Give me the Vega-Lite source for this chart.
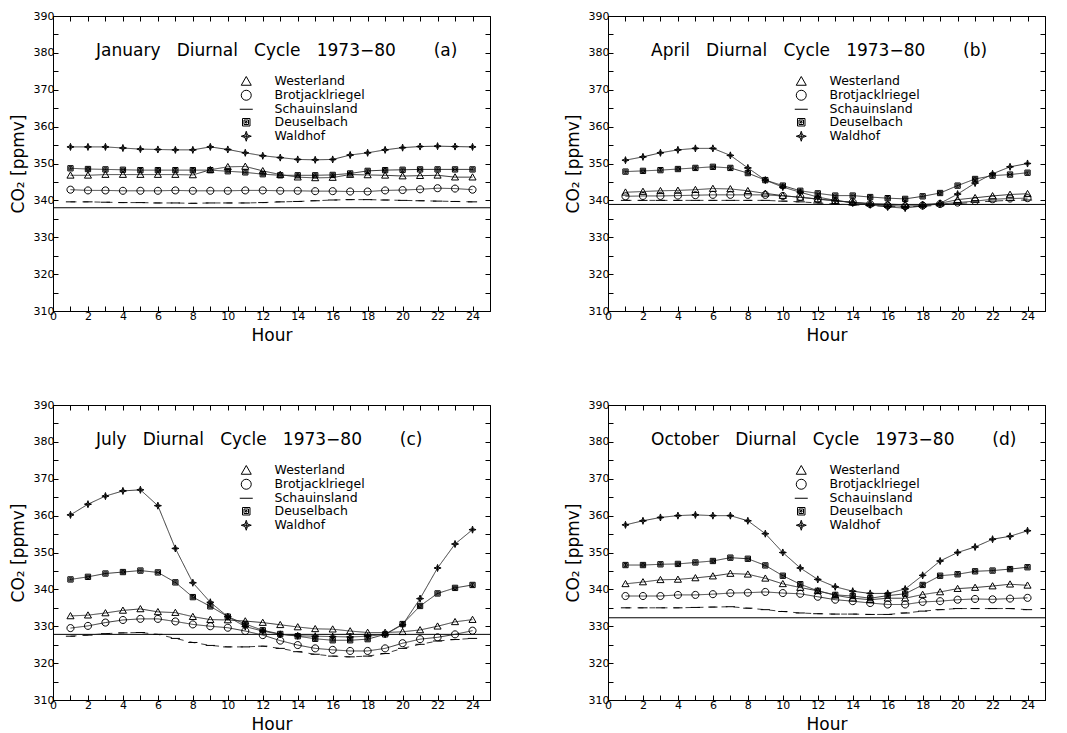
{
  "$schema": "https://vega.github.io/schema/vega-lite/v6.json",
  "padding": {"left": 8, "top": 9, "right": 5, "bottom": 5},
  "datasets": {
    "base": [
      {"month": "January", "co2": 338.0},
      {"month": "April", "co2": 338.9},
      {"month": "July", "co2": 327.8},
      {"month": "October", "co2": 332.3}
    ],
    "co2": [
      {"month":"January","hour":1,"Westerland":346.8,"Brotjacklriegel":342.9,"Schauinsland":339.6,"Deuselbach":348.7,"Waldhof":354.5},
      {"month":"January","hour":2,"Westerland":346.8,"Brotjacklriegel":342.7,"Schauinsland":339.6,"Deuselbach":348.5,"Waldhof":354.5},
      {"month":"January","hour":3,"Westerland":347.0,"Brotjacklriegel":342.7,"Schauinsland":339.5,"Deuselbach":348.4,"Waldhof":354.5},
      {"month":"January","hour":4,"Westerland":347.0,"Brotjacklriegel":342.6,"Schauinsland":339.4,"Deuselbach":348.3,"Waldhof":354.2},
      {"month":"January","hour":5,"Westerland":347.0,"Brotjacklriegel":342.6,"Schauinsland":339.4,"Deuselbach":348.2,"Waldhof":353.9},
      {"month":"January","hour":6,"Westerland":347.0,"Brotjacklriegel":342.6,"Schauinsland":339.3,"Deuselbach":348.2,"Waldhof":353.8},
      {"month":"January","hour":7,"Westerland":347.0,"Brotjacklriegel":342.7,"Schauinsland":339.3,"Deuselbach":348.2,"Waldhof":353.7},
      {"month":"January","hour":8,"Westerland":346.9,"Brotjacklriegel":342.6,"Schauinsland":339.2,"Deuselbach":348.2,"Waldhof":353.7},
      {"month":"January","hour":9,"Westerland":348.3,"Brotjacklriegel":342.6,"Schauinsland":339.3,"Deuselbach":348.2,"Waldhof":354.5},
      {"month":"January","hour":10,"Westerland":349.1,"Brotjacklriegel":342.6,"Schauinsland":339.3,"Deuselbach":347.9,"Waldhof":353.8},
      {"month":"January","hour":11,"Westerland":349.2,"Brotjacklriegel":342.7,"Schauinsland":339.3,"Deuselbach":347.6,"Waldhof":352.9},
      {"month":"January","hour":12,"Westerland":348.0,"Brotjacklriegel":342.7,"Schauinsland":339.4,"Deuselbach":347.1,"Waldhof":352.1},
      {"month":"January","hour":13,"Westerland":347.0,"Brotjacklriegel":342.6,"Schauinsland":339.6,"Deuselbach":346.8,"Waldhof":351.6},
      {"month":"January","hour":14,"Westerland":346.3,"Brotjacklriegel":342.6,"Schauinsland":339.7,"Deuselbach":346.8,"Waldhof":351.1},
      {"month":"January","hour":15,"Westerland":346.1,"Brotjacklriegel":342.5,"Schauinsland":339.9,"Deuselbach":346.8,"Waldhof":351.0},
      {"month":"January","hour":16,"Westerland":346.2,"Brotjacklriegel":342.5,"Schauinsland":340.1,"Deuselbach":346.9,"Waldhof":351.1},
      {"month":"January","hour":17,"Westerland":347.0,"Brotjacklriegel":342.4,"Schauinsland":340.2,"Deuselbach":347.3,"Waldhof":352.3},
      {"month":"January","hour":18,"Westerland":346.9,"Brotjacklriegel":342.4,"Schauinsland":340.2,"Deuselbach":348.0,"Waldhof":352.9},
      {"month":"January","hour":19,"Westerland":346.8,"Brotjacklriegel":342.7,"Schauinsland":340.1,"Deuselbach":348.2,"Waldhof":353.7},
      {"month":"January","hour":20,"Westerland":346.6,"Brotjacklriegel":342.8,"Schauinsland":340.0,"Deuselbach":348.3,"Waldhof":354.3},
      {"month":"January","hour":21,"Westerland":346.7,"Brotjacklriegel":343.0,"Schauinsland":339.9,"Deuselbach":348.4,"Waldhof":354.6},
      {"month":"January","hour":22,"Westerland":346.8,"Brotjacklriegel":343.3,"Schauinsland":339.8,"Deuselbach":348.4,"Waldhof":354.7},
      {"month":"January","hour":23,"Westerland":346.3,"Brotjacklriegel":343.2,"Schauinsland":339.7,"Deuselbach":348.4,"Waldhof":354.6},
      {"month":"January","hour":24,"Westerland":346.3,"Brotjacklriegel":342.9,"Schauinsland":339.6,"Deuselbach":348.4,"Waldhof":354.5},
      {"month":"April","hour":1,"Westerland":342.2,"Brotjacklriegel":341.1,"Schauinsland":340.0,"Deuselbach":347.8,"Waldhof":350.9},
      {"month":"April","hour":2,"Westerland":342.4,"Brotjacklriegel":341.2,"Schauinsland":340.0,"Deuselbach":348.0,"Waldhof":351.8},
      {"month":"April","hour":3,"Westerland":342.6,"Brotjacklriegel":341.2,"Schauinsland":340.0,"Deuselbach":348.2,"Waldhof":352.9},
      {"month":"April","hour":4,"Westerland":342.7,"Brotjacklriegel":341.3,"Schauinsland":340.0,"Deuselbach":348.5,"Waldhof":353.7},
      {"month":"April","hour":5,"Westerland":342.9,"Brotjacklriegel":341.4,"Schauinsland":340.0,"Deuselbach":348.8,"Waldhof":354.1},
      {"month":"April","hour":6,"Westerland":343.2,"Brotjacklriegel":341.5,"Schauinsland":340.0,"Deuselbach":349.1,"Waldhof":354.1},
      {"month":"April","hour":7,"Westerland":343.1,"Brotjacklriegel":341.5,"Schauinsland":340.0,"Deuselbach":348.8,"Waldhof":352.2},
      {"month":"April","hour":8,"Westerland":342.6,"Brotjacklriegel":341.5,"Schauinsland":340.0,"Deuselbach":347.4,"Waldhof":348.8},
      {"month":"April","hour":9,"Westerland":341.9,"Brotjacklriegel":341.5,"Schauinsland":340.0,"Deuselbach":345.5,"Waldhof":345.5},
      {"month":"April","hour":10,"Westerland":341.3,"Brotjacklriegel":341.2,"Schauinsland":339.8,"Deuselbach":344.0,"Waldhof":343.6},
      {"month":"April","hour":11,"Westerland":340.8,"Brotjacklriegel":340.9,"Schauinsland":339.6,"Deuselbach":342.6,"Waldhof":342.2},
      {"month":"April","hour":12,"Westerland":340.4,"Brotjacklriegel":340.3,"Schauinsland":339.3,"Deuselbach":341.9,"Waldhof":340.9},
      {"month":"April","hour":13,"Westerland":339.9,"Brotjacklriegel":339.9,"Schauinsland":339.0,"Deuselbach":341.3,"Waldhof":340.0},
      {"month":"April","hour":14,"Westerland":339.5,"Brotjacklriegel":339.5,"Schauinsland":338.8,"Deuselbach":341.3,"Waldhof":339.3},
      {"month":"April","hour":15,"Westerland":339.2,"Brotjacklriegel":339.0,"Schauinsland":338.6,"Deuselbach":340.9,"Waldhof":338.8},
      {"month":"April","hour":16,"Westerland":339.0,"Brotjacklriegel":338.6,"Schauinsland":338.4,"Deuselbach":340.6,"Waldhof":338.2},
      {"month":"April","hour":17,"Westerland":338.8,"Brotjacklriegel":338.4,"Schauinsland":338.3,"Deuselbach":340.4,"Waldhof":337.9},
      {"month":"April","hour":18,"Westerland":338.9,"Brotjacklriegel":338.6,"Schauinsland":338.4,"Deuselbach":341.1,"Waldhof":338.5},
      {"month":"April","hour":19,"Westerland":339.2,"Brotjacklriegel":339.0,"Schauinsland":338.7,"Deuselbach":342.0,"Waldhof":339.2},
      {"month":"April","hour":20,"Westerland":340.2,"Brotjacklriegel":339.4,"Schauinsland":339.1,"Deuselbach":344.0,"Waldhof":341.7},
      {"month":"April","hour":21,"Westerland":340.7,"Brotjacklriegel":339.8,"Schauinsland":339.5,"Deuselbach":345.8,"Waldhof":344.7},
      {"month":"April","hour":22,"Westerland":341.2,"Brotjacklriegel":340.3,"Schauinsland":339.8,"Deuselbach":346.7,"Waldhof":347.2},
      {"month":"April","hour":23,"Westerland":341.6,"Brotjacklriegel":340.5,"Schauinsland":340.0,"Deuselbach":347.0,"Waldhof":349.1},
      {"month":"April","hour":24,"Westerland":341.8,"Brotjacklriegel":340.6,"Schauinsland":340.1,"Deuselbach":347.5,"Waldhof":350.0},
      {"month":"July","hour":1,"Westerland":332.8,"Brotjacklriegel":329.5,"Schauinsland":327.3,"Deuselbach":342.7,"Waldhof":360.2},
      {"month":"July","hour":2,"Westerland":333.0,"Brotjacklriegel":330.1,"Schauinsland":327.6,"Deuselbach":343.4,"Waldhof":363.1},
      {"month":"July","hour":3,"Westerland":333.6,"Brotjacklriegel":331.0,"Schauinsland":328.0,"Deuselbach":344.3,"Waldhof":365.3},
      {"month":"July","hour":4,"Westerland":334.3,"Brotjacklriegel":331.7,"Schauinsland":328.2,"Deuselbach":344.7,"Waldhof":366.7},
      {"month":"July","hour":5,"Westerland":334.7,"Brotjacklriegel":332.0,"Schauinsland":328.3,"Deuselbach":345.1,"Waldhof":367.0},
      {"month":"July","hour":6,"Westerland":333.9,"Brotjacklriegel":332.0,"Schauinsland":327.8,"Deuselbach":344.6,"Waldhof":362.7},
      {"month":"July","hour":7,"Westerland":333.7,"Brotjacklriegel":331.3,"Schauinsland":326.7,"Deuselbach":341.9,"Waldhof":351.1},
      {"month":"July","hour":8,"Westerland":332.6,"Brotjacklriegel":330.5,"Schauinsland":325.6,"Deuselbach":337.9,"Waldhof":341.8},
      {"month":"July","hour":9,"Westerland":331.8,"Brotjacklriegel":330.0,"Schauinsland":324.8,"Deuselbach":335.4,"Waldhof":336.5},
      {"month":"July","hour":10,"Westerland":331.7,"Brotjacklriegel":329.6,"Schauinsland":324.4,"Deuselbach":332.6,"Waldhof":332.6},
      {"month":"July","hour":11,"Westerland":331.4,"Brotjacklriegel":328.7,"Schauinsland":324.4,"Deuselbach":330.6,"Waldhof":329.9},
      {"month":"July","hour":12,"Westerland":331.0,"Brotjacklriegel":327.6,"Schauinsland":324.6,"Deuselbach":328.9,"Waldhof":328.7},
      {"month":"July","hour":13,"Westerland":330.4,"Brotjacklriegel":326.1,"Schauinsland":324.0,"Deuselbach":327.9,"Waldhof":327.8},
      {"month":"July","hour":14,"Westerland":329.8,"Brotjacklriegel":324.9,"Schauinsland":323.1,"Deuselbach":327.3,"Waldhof":327.4},
      {"month":"July","hour":15,"Westerland":329.3,"Brotjacklriegel":324.0,"Schauinsland":322.4,"Deuselbach":326.6,"Waldhof":327.3},
      {"month":"July","hour":16,"Westerland":329.2,"Brotjacklriegel":323.6,"Schauinsland":321.9,"Deuselbach":326.2,"Waldhof":327.2},
      {"month":"July","hour":17,"Westerland":328.7,"Brotjacklriegel":323.3,"Schauinsland":321.7,"Deuselbach":326.2,"Waldhof":327.1},
      {"month":"July","hour":18,"Westerland":328.3,"Brotjacklriegel":323.3,"Schauinsland":321.9,"Deuselbach":326.5,"Waldhof":327.3},
      {"month":"July","hour":19,"Westerland":328.3,"Brotjacklriegel":324.0,"Schauinsland":322.6,"Deuselbach":327.8,"Waldhof":327.8},
      {"month":"July","hour":20,"Westerland":328.5,"Brotjacklriegel":325.4,"Schauinsland":324.0,"Deuselbach":330.6,"Waldhof":330.4},
      {"month":"July","hour":21,"Westerland":329.0,"Brotjacklriegel":326.5,"Schauinsland":325.1,"Deuselbach":335.5,"Waldhof":337.5},
      {"month":"July","hour":22,"Westerland":330.0,"Brotjacklriegel":327.0,"Schauinsland":326.0,"Deuselbach":338.9,"Waldhof":345.8},
      {"month":"July","hour":23,"Westerland":331.2,"Brotjacklriegel":327.8,"Schauinsland":326.4,"Deuselbach":340.4,"Waldhof":352.3},
      {"month":"July","hour":24,"Westerland":331.8,"Brotjacklriegel":328.8,"Schauinsland":326.7,"Deuselbach":341.2,"Waldhof":356.2},
      {"month":"October","hour":1,"Westerland":341.5,"Brotjacklriegel":338.2,"Schauinsland":335.0,"Deuselbach":346.6,"Waldhof":357.5},
      {"month":"October","hour":2,"Westerland":342.0,"Brotjacklriegel":338.2,"Schauinsland":335.0,"Deuselbach":346.6,"Waldhof":358.6},
      {"month":"October","hour":3,"Westerland":342.6,"Brotjacklriegel":338.2,"Schauinsland":335.0,"Deuselbach":346.8,"Waldhof":359.5},
      {"month":"October","hour":4,"Westerland":342.7,"Brotjacklriegel":338.5,"Schauinsland":335.0,"Deuselbach":346.9,"Waldhof":360.0},
      {"month":"October","hour":5,"Westerland":343.1,"Brotjacklriegel":338.5,"Schauinsland":335.1,"Deuselbach":347.3,"Waldhof":360.2},
      {"month":"October","hour":6,"Westerland":343.6,"Brotjacklriegel":338.7,"Schauinsland":335.2,"Deuselbach":347.7,"Waldhof":360.0},
      {"month":"October","hour":7,"Westerland":344.3,"Brotjacklriegel":339.0,"Schauinsland":335.3,"Deuselbach":348.6,"Waldhof":360.0},
      {"month":"October","hour":8,"Westerland":344.1,"Brotjacklriegel":339.1,"Schauinsland":334.9,"Deuselbach":348.3,"Waldhof":358.6},
      {"month":"October","hour":9,"Westerland":343.0,"Brotjacklriegel":339.3,"Schauinsland":334.5,"Deuselbach":346.5,"Waldhof":355.1},
      {"month":"October","hour":10,"Westerland":341.5,"Brotjacklriegel":339.0,"Schauinsland":334.0,"Deuselbach":343.7,"Waldhof":350.0},
      {"month":"October","hour":11,"Westerland":340.5,"Brotjacklriegel":338.8,"Schauinsland":333.6,"Deuselbach":341.4,"Waldhof":345.8},
      {"month":"October","hour":12,"Westerland":339.6,"Brotjacklriegel":338.0,"Schauinsland":333.4,"Deuselbach":339.6,"Waldhof":342.7},
      {"month":"October","hour":13,"Westerland":338.4,"Brotjacklriegel":337.2,"Schauinsland":333.3,"Deuselbach":338.5,"Waldhof":340.7},
      {"month":"October","hour":14,"Westerland":337.6,"Brotjacklriegel":336.8,"Schauinsland":333.3,"Deuselbach":338.2,"Waldhof":339.5},
      {"month":"October","hour":15,"Westerland":337.2,"Brotjacklriegel":336.3,"Schauinsland":333.2,"Deuselbach":337.6,"Waldhof":338.9},
      {"month":"October","hour":16,"Westerland":337.6,"Brotjacklriegel":335.9,"Schauinsland":333.2,"Deuselbach":338.3,"Waldhof":338.9},
      {"month":"October","hour":17,"Westerland":337.6,"Brotjacklriegel":335.9,"Schauinsland":333.6,"Deuselbach":338.8,"Waldhof":340.1},
      {"month":"October","hour":18,"Westerland":338.6,"Brotjacklriegel":336.6,"Schauinsland":334.1,"Deuselbach":341.2,"Waldhof":343.8},
      {"month":"October","hour":19,"Westerland":339.3,"Brotjacklriegel":336.8,"Schauinsland":334.5,"Deuselbach":343.7,"Waldhof":347.7},
      {"month":"October","hour":20,"Westerland":340.2,"Brotjacklriegel":337.2,"Schauinsland":334.8,"Deuselbach":344.1,"Waldhof":350.0},
      {"month":"October","hour":21,"Westerland":340.5,"Brotjacklriegel":337.4,"Schauinsland":334.8,"Deuselbach":344.9,"Waldhof":351.5},
      {"month":"October","hour":22,"Westerland":340.9,"Brotjacklriegel":337.3,"Schauinsland":334.8,"Deuselbach":345.1,"Waldhof":353.6},
      {"month":"October","hour":23,"Westerland":341.4,"Brotjacklriegel":337.5,"Schauinsland":334.8,"Deuselbach":345.5,"Waldhof":354.4},
      {"month":"October","hour":24,"Westerland":341.1,"Brotjacklriegel":337.7,"Schauinsland":334.5,"Deuselbach":346.0,"Waldhof":355.9}
    ]
  },
  "columns": 2,
  "spacing": {"row": 54, "column": 72},
  "concat": [
    {
      "width": 437, "height": 295,
      "title": {"text": "January\u00a0\u00a0\u00a0Diurnal\u00a0\u00a0\u00a0Cycle\u00a0\u00a0\u00a01973\u221280\u00a0\u00a0\u00a0\u00a0\u00a0\u00a0\u00a0(a)", "fontSize": 17, "font": "DejaVu Sans", "fontWeight": "normal", "color": "black", "anchor": "start", "dx": 43, "offset": -50, "frame": "group"},
      "layer": [
        {"data": {"name": "base"}, "transform": [{"filter": "datum.month === 'January'"}],
         "mark": {"type": "rule", "color": "black", "strokeWidth": 1},
         "encoding": {"y": {"field": "co2", "type": "quantitative", "scale": {"domain": [310, 390], "nice": false, "zero": false}, "axis": null}}},
        {"data": {"name": "co2"}, "transform": [{"filter": "datum.month === 'January'"}, {"fold": ["Westerland", "Brotjacklriegel", "Schauinsland", "Deuselbach", "Waldhof"], "as": ["station", "co2"]}],
         "mark": {"type": "line", "color": "#222", "strokeWidth": 0.9},
         "encoding": {
           "x": {"field": "hour", "type": "quantitative", "scale": {"domain": [0, 25], "nice": false}, "axis": {"orient": "bottom", "title": "Hour", "values": [0,1,2,3,4,5,6,7,8,9,10,11,12,13,14,15,16,17,18,19,20,21,22,23,24,25], "labelExpr": "datum.value % 2 === 0 && datum.value < 25 ? datum.label : ''"}},
           "y": {"field": "co2", "type": "quantitative", "scale": {"domain": [310, 390], "nice": false, "zero": false}, "axis": {"orient": "left", "title": "CO\u2082 [ppmv]", "values": [310,315,320,325,330,335,340,345,350,355,360,365,370,375,380,385,390], "labelExpr": "datum.value % 10 === 0 ? datum.label : ''"}},
           "strokeDash": {"field": "station", "type": "nominal", "scale": {"domain": ["Brotjacklriegel", "Deuselbach", "Schauinsland", "Waldhof", "Westerland"], "range": [[1, 0], [1, 0], [6, 6], [1, 0], [1, 0]]}, "legend": null}
         }},
        {"data": {"name": "co2"}, "transform": [{"filter": "datum.month === 'January'"}, {"fold": ["Westerland", "Brotjacklriegel", "Schauinsland", "Deuselbach", "Waldhof"], "as": ["station", "co2"]}],
         "mark": {"type": "point", "filled": false, "stroke": "black", "strokeWidth": 1, "size": 50, "opacity": 1},
         "encoding": {
           "x": {"field": "hour", "type": "quantitative", "axis": {"orient": "top", "labels": false, "title": null, "domain": false, "values": [0,1,2,3,4,5,6,7,8,9,10,11,12,13,14,15,16,17,18,19,20,21,22,23,24,25]}},
           "y": {"field": "co2", "type": "quantitative", "axis": {"orient": "right", "labels": false, "title": null, "domain": false, "values": [310,315,320,325,330,335,340,345,350,355,360,365,370,375,380,385,390]}},
           "shape": {"field": "station", "type": "nominal", "scale": {"domain": ["Westerland", "Brotjacklriegel", "Schauinsland", "Deuselbach", "Waldhof"], "range": ["M-1,0.8L0,-0.95L1,0.8Z", "M-1,0A1,1,0,1,0,1,0A1,1,0,1,0,-1,0Z", "M-1.3,0H1.3", "M-0.75,-0.75H0.75V0.75H-0.75ZM-0.45,-0.45H0.45V0.45H-0.45ZM-0.15,-0.15H0.15V0.15H-0.15Z", "M0,-1L0.25,-0.25L1,0L0.25,0.25L0,1L-0.25,0.25L-1,0L-0.25,-0.25ZM-0.6,0H0.6M0,-0.6V0.6"]},
             "legend": {"orient": "none", "legendX": 187, "legendY": 59, "title": null, "symbolStrokeColor": "black", "symbolStrokeWidth": 1}}
         }}
      ],
      "resolve": {"axis": {"x": "independent", "y": "independent"}}
    },
    {
      "width": 437, "height": 295,
      "title": {"text": "April\u00a0\u00a0\u00a0Diurnal\u00a0\u00a0\u00a0Cycle\u00a0\u00a0\u00a01973\u221280\u00a0\u00a0\u00a0\u00a0\u00a0\u00a0\u00a0(b)", "fontSize": 17, "font": "DejaVu Sans", "fontWeight": "normal", "color": "black", "anchor": "start", "dx": 43, "offset": -50, "frame": "group"},
      "layer": [
        {"data": {"name": "base"}, "transform": [{"filter": "datum.month === 'April'"}],
         "mark": {"type": "rule", "color": "black", "strokeWidth": 1},
         "encoding": {"y": {"field": "co2", "type": "quantitative", "scale": {"domain": [310, 390], "nice": false, "zero": false}, "axis": null}}},
        {"data": {"name": "co2"}, "transform": [{"filter": "datum.month === 'April'"}, {"fold": ["Westerland", "Brotjacklriegel", "Schauinsland", "Deuselbach", "Waldhof"], "as": ["station", "co2"]}],
         "mark": {"type": "line", "color": "#222", "strokeWidth": 0.9},
         "encoding": {
           "x": {"field": "hour", "type": "quantitative", "scale": {"domain": [0, 25], "nice": false}, "axis": {"orient": "bottom", "title": "Hour", "values": [0,1,2,3,4,5,6,7,8,9,10,11,12,13,14,15,16,17,18,19,20,21,22,23,24,25], "labelExpr": "datum.value % 2 === 0 && datum.value < 25 ? datum.label : ''"}},
           "y": {"field": "co2", "type": "quantitative", "scale": {"domain": [310, 390], "nice": false, "zero": false}, "axis": {"orient": "left", "title": "CO\u2082 [ppmv]", "values": [310,315,320,325,330,335,340,345,350,355,360,365,370,375,380,385,390], "labelExpr": "datum.value % 10 === 0 ? datum.label : ''"}},
           "strokeDash": {"field": "station", "type": "nominal", "scale": {"domain": ["Brotjacklriegel", "Deuselbach", "Schauinsland", "Waldhof", "Westerland"], "range": [[1, 0], [1, 0], [6, 6], [1, 0], [1, 0]]}, "legend": null}
         }},
        {"data": {"name": "co2"}, "transform": [{"filter": "datum.month === 'April'"}, {"fold": ["Westerland", "Brotjacklriegel", "Schauinsland", "Deuselbach", "Waldhof"], "as": ["station", "co2"]}],
         "mark": {"type": "point", "filled": false, "stroke": "black", "strokeWidth": 1, "size": 50, "opacity": 1},
         "encoding": {
           "x": {"field": "hour", "type": "quantitative", "axis": {"orient": "top", "labels": false, "title": null, "domain": false, "values": [0,1,2,3,4,5,6,7,8,9,10,11,12,13,14,15,16,17,18,19,20,21,22,23,24,25]}},
           "y": {"field": "co2", "type": "quantitative", "axis": {"orient": "right", "labels": false, "title": null, "domain": false, "values": [310,315,320,325,330,335,340,345,350,355,360,365,370,375,380,385,390]}},
           "shape": {"field": "station", "type": "nominal", "scale": {"domain": ["Westerland", "Brotjacklriegel", "Schauinsland", "Deuselbach", "Waldhof"], "range": ["M-1,0.8L0,-0.95L1,0.8Z", "M-1,0A1,1,0,1,0,1,0A1,1,0,1,0,-1,0Z", "M-1.3,0H1.3", "M-0.75,-0.75H0.75V0.75H-0.75ZM-0.45,-0.45H0.45V0.45H-0.45ZM-0.15,-0.15H0.15V0.15H-0.15Z", "M0,-1L0.25,-0.25L1,0L0.25,0.25L0,1L-0.25,0.25L-1,0L-0.25,-0.25ZM-0.6,0H0.6M0,-0.6V0.6"]},
             "legend": {"orient": "none", "legendX": 187, "legendY": 59, "title": null, "symbolStrokeColor": "black", "symbolStrokeWidth": 1}}
         }}
      ],
      "resolve": {"axis": {"x": "independent", "y": "independent"}}
    },
    {
      "width": 437, "height": 295,
      "title": {"text": "July\u00a0\u00a0\u00a0Diurnal\u00a0\u00a0\u00a0Cycle\u00a0\u00a0\u00a01973\u221280\u00a0\u00a0\u00a0\u00a0\u00a0\u00a0\u00a0(c)", "fontSize": 17, "font": "DejaVu Sans", "fontWeight": "normal", "color": "black", "anchor": "start", "dx": 43, "offset": -50, "frame": "group"},
      "layer": [
        {"data": {"name": "base"}, "transform": [{"filter": "datum.month === 'July'"}],
         "mark": {"type": "rule", "color": "black", "strokeWidth": 1},
         "encoding": {"y": {"field": "co2", "type": "quantitative", "scale": {"domain": [310, 390], "nice": false, "zero": false}, "axis": null}}},
        {"data": {"name": "co2"}, "transform": [{"filter": "datum.month === 'July'"}, {"fold": ["Westerland", "Brotjacklriegel", "Schauinsland", "Deuselbach", "Waldhof"], "as": ["station", "co2"]}],
         "mark": {"type": "line", "color": "#222", "strokeWidth": 0.9},
         "encoding": {
           "x": {"field": "hour", "type": "quantitative", "scale": {"domain": [0, 25], "nice": false}, "axis": {"orient": "bottom", "title": "Hour", "values": [0,1,2,3,4,5,6,7,8,9,10,11,12,13,14,15,16,17,18,19,20,21,22,23,24,25], "labelExpr": "datum.value % 2 === 0 && datum.value < 25 ? datum.label : ''"}},
           "y": {"field": "co2", "type": "quantitative", "scale": {"domain": [310, 390], "nice": false, "zero": false}, "axis": {"orient": "left", "title": "CO\u2082 [ppmv]", "values": [310,315,320,325,330,335,340,345,350,355,360,365,370,375,380,385,390], "labelExpr": "datum.value % 10 === 0 ? datum.label : ''"}},
           "strokeDash": {"field": "station", "type": "nominal", "scale": {"domain": ["Brotjacklriegel", "Deuselbach", "Schauinsland", "Waldhof", "Westerland"], "range": [[1, 0], [1, 0], [6, 6], [1, 0], [1, 0]]}, "legend": null}
         }},
        {"data": {"name": "co2"}, "transform": [{"filter": "datum.month === 'July'"}, {"fold": ["Westerland", "Brotjacklriegel", "Schauinsland", "Deuselbach", "Waldhof"], "as": ["station", "co2"]}],
         "mark": {"type": "point", "filled": false, "stroke": "black", "strokeWidth": 1, "size": 50, "opacity": 1},
         "encoding": {
           "x": {"field": "hour", "type": "quantitative", "axis": {"orient": "top", "labels": false, "title": null, "domain": false, "values": [0,1,2,3,4,5,6,7,8,9,10,11,12,13,14,15,16,17,18,19,20,21,22,23,24,25]}},
           "y": {"field": "co2", "type": "quantitative", "axis": {"orient": "right", "labels": false, "title": null, "domain": false, "values": [310,315,320,325,330,335,340,345,350,355,360,365,370,375,380,385,390]}},
           "shape": {"field": "station", "type": "nominal", "scale": {"domain": ["Westerland", "Brotjacklriegel", "Schauinsland", "Deuselbach", "Waldhof"], "range": ["M-1,0.8L0,-0.95L1,0.8Z", "M-1,0A1,1,0,1,0,1,0A1,1,0,1,0,-1,0Z", "M-1.3,0H1.3", "M-0.75,-0.75H0.75V0.75H-0.75ZM-0.45,-0.45H0.45V0.45H-0.45ZM-0.15,-0.15H0.15V0.15H-0.15Z", "M0,-1L0.25,-0.25L1,0L0.25,0.25L0,1L-0.25,0.25L-1,0L-0.25,-0.25ZM-0.6,0H0.6M0,-0.6V0.6"]},
             "legend": {"orient": "none", "legendX": 187, "legendY": 59, "title": null, "symbolStrokeColor": "black", "symbolStrokeWidth": 1}}
         }}
      ],
      "resolve": {"axis": {"x": "independent", "y": "independent"}}
    },
    {
      "width": 437, "height": 295,
      "title": {"text": "October\u00a0\u00a0\u00a0Diurnal\u00a0\u00a0\u00a0Cycle\u00a0\u00a0\u00a01973\u221280\u00a0\u00a0\u00a0\u00a0\u00a0\u00a0\u00a0(d)", "fontSize": 17, "font": "DejaVu Sans", "fontWeight": "normal", "color": "black", "anchor": "start", "dx": 43, "offset": -50, "frame": "group"},
      "layer": [
        {"data": {"name": "base"}, "transform": [{"filter": "datum.month === 'October'"}],
         "mark": {"type": "rule", "color": "black", "strokeWidth": 1},
         "encoding": {"y": {"field": "co2", "type": "quantitative", "scale": {"domain": [310, 390], "nice": false, "zero": false}, "axis": null}}},
        {"data": {"name": "co2"}, "transform": [{"filter": "datum.month === 'October'"}, {"fold": ["Westerland", "Brotjacklriegel", "Schauinsland", "Deuselbach", "Waldhof"], "as": ["station", "co2"]}],
         "mark": {"type": "line", "color": "#222", "strokeWidth": 0.9},
         "encoding": {
           "x": {"field": "hour", "type": "quantitative", "scale": {"domain": [0, 25], "nice": false}, "axis": {"orient": "bottom", "title": "Hour", "values": [0,1,2,3,4,5,6,7,8,9,10,11,12,13,14,15,16,17,18,19,20,21,22,23,24,25], "labelExpr": "datum.value % 2 === 0 && datum.value < 25 ? datum.label : ''"}},
           "y": {"field": "co2", "type": "quantitative", "scale": {"domain": [310, 390], "nice": false, "zero": false}, "axis": {"orient": "left", "title": "CO\u2082 [ppmv]", "values": [310,315,320,325,330,335,340,345,350,355,360,365,370,375,380,385,390], "labelExpr": "datum.value % 10 === 0 ? datum.label : ''"}},
           "strokeDash": {"field": "station", "type": "nominal", "scale": {"domain": ["Brotjacklriegel", "Deuselbach", "Schauinsland", "Waldhof", "Westerland"], "range": [[1, 0], [1, 0], [6, 6], [1, 0], [1, 0]]}, "legend": null}
         }},
        {"data": {"name": "co2"}, "transform": [{"filter": "datum.month === 'October'"}, {"fold": ["Westerland", "Brotjacklriegel", "Schauinsland", "Deuselbach", "Waldhof"], "as": ["station", "co2"]}],
         "mark": {"type": "point", "filled": false, "stroke": "black", "strokeWidth": 1, "size": 50, "opacity": 1},
         "encoding": {
           "x": {"field": "hour", "type": "quantitative", "axis": {"orient": "top", "labels": false, "title": null, "domain": false, "values": [0,1,2,3,4,5,6,7,8,9,10,11,12,13,14,15,16,17,18,19,20,21,22,23,24,25]}},
           "y": {"field": "co2", "type": "quantitative", "axis": {"orient": "right", "labels": false, "title": null, "domain": false, "values": [310,315,320,325,330,335,340,345,350,355,360,365,370,375,380,385,390]}},
           "shape": {"field": "station", "type": "nominal", "scale": {"domain": ["Westerland", "Brotjacklriegel", "Schauinsland", "Deuselbach", "Waldhof"], "range": ["M-1,0.8L0,-0.95L1,0.8Z", "M-1,0A1,1,0,1,0,1,0A1,1,0,1,0,-1,0Z", "M-1.3,0H1.3", "M-0.75,-0.75H0.75V0.75H-0.75ZM-0.45,-0.45H0.45V0.45H-0.45ZM-0.15,-0.15H0.15V0.15H-0.15Z", "M0,-1L0.25,-0.25L1,0L0.25,0.25L0,1L-0.25,0.25L-1,0L-0.25,-0.25ZM-0.6,0H0.6M0,-0.6V0.6"]},
             "legend": {"orient": "none", "legendX": 187, "legendY": 59, "title": null, "symbolStrokeColor": "black", "symbolStrokeWidth": 1}}
         }}
      ],
      "resolve": {"axis": {"x": "independent", "y": "independent"}}
    }
  ],
  "resolve": {"scale": {"shape": "independent", "strokeDash": "independent"}, "legend": {"shape": "independent"}},
  "config": {
    "font": "DejaVu Sans",
    "background": "white",
    "view": {"stroke": "black", "strokeWidth": 1},
    "axis": {"domainColor": "black", "tickColor": "black", "labelColor": "black", "titleColor": "black", "labelFont": "DejaVu Sans", "labelFontSize": 11, "titleFont": "DejaVu Sans", "titleFontSize": 17, "titleFontWeight": "normal", "grid": false, "tickSize": -5, "labelOverlap": false, "labelFlush": false, "labelBound": false, "labelPadding": 4, "titlePadding": 6},
    "legend": {"symbolSize": 100, "labelOffset": 22, "labelFontSize": 12.5, "labelFont": "DejaVu Sans", "labelColor": "black", "rowPadding": 0, "padding": 0, "offset": 0, "symbolStrokeWidth": 1, "symbolStrokeColor": "black"}
  }
}
